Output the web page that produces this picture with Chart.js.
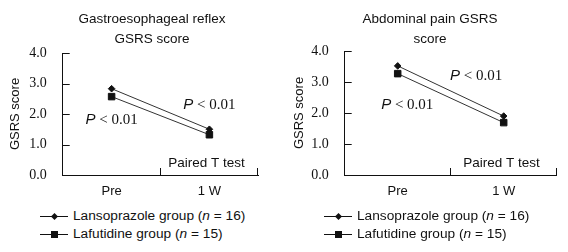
<!DOCTYPE html>
<html lang="en">
<head>
<meta charset="UTF-8">
<title>GSRS score</title>
<style>
body { margin: 0; background: #fff; font-family: 'Liberation Sans', Arial, sans-serif; color: #111; }
.wrap { display: flex; width: 568px; height: 252px; }
.panel { position: relative; width: 284px; height: 252px; }
.panel .title { position: absolute; top: 9px; left: 0; text-align: center; font-size: 13.5px; line-height: 20px; }
.chart-box { position: absolute; top: 0; left: 0; width: 284px; height: 200px; }
.legend { position: absolute; left: 40px; top: 207px; font-size: 13.7px; line-height: 18px; }
.legend .row { display: flex; align-items: center; height: 18px; white-space: pre; }
.sym { position: relative; width: 28px; height: 18px; margin-right: 5px; }
.sym:before { content: ""; position: absolute; left: 0; top: 9px; width: 28px; height: 1px; background: #111; }
.sym .diamond { position: absolute; left: 11.5px; top: 7px; width: 5px; height: 5px; background: #111; transform: rotate(45deg); }
.sym .square { position: absolute; left: 10.5px; top: 6px; width: 7px; height: 7px; background: #111; }
</style>
<script src="https://cdn.jsdelivr.net/npm/chart.js"></script>
</head>
<body>
<div class="wrap">
    <div class="panel">
        <div class="chart-box"><canvas id="refluxChart"></canvas></div>
        <div class="title" style="width:304px">Gastroesophageal reflex<br>GSRS score</div>
        <div class="legend">
            <div class="row"><span class="sym"><span class="diamond"></span></span>Lansoprazole group (<i>n</i> = 16)</div>
            <div class="row"><span class="sym"><span class="square"></span></span>Lafutidine group (<i>n</i> = 15)</div>
        </div>
    </div>
    <div class="panel">
        <div class="chart-box"><canvas id="painChart"></canvas></div>
        <div class="title" style="width:292px">Abdominal pain GSRS<br>score</div>
        <div class="legend">
            <div class="row"><span class="sym"><span class="diamond"></span></span>Lansoprazole group (<i>n</i> = 16)</div>
            <div class="row"><span class="sym"><span class="square"></span></span>Lafutidine group (<i>n</i> = 15)</div>
        </div>
    </div>
</div>
<script>
const timepoints = ["Pre", "1 W"];

// GSRS scores
const refluxLanso = [2.83, 1.50];
const refluxLafu = [2.57, 1.32];
const painLanso = [3.52, 1.90];
const painLafu = [3.27, 1.69];

const refluxStep = 1;
const painStep = 0.5;

// inward tick marks + the text notes inside the plot
const extras = {
    id: "extras",
    afterDraw(chart, args, opts) {
        const { ctx, chartArea: a, scales: { x, y } } = chart;
        ctx.save();
        ctx.strokeStyle = "#111";
        ctx.lineWidth = 1;
        ctx.beginPath();
        y.ticks.forEach((t, i) => {
            if (i === 0) return;
            const py = Math.round(y.getPixelForTick(i)) + 0.5;
            ctx.moveTo(a.left, py);
            ctx.lineTo(a.left + 7, py);
        });
        const half = (x.getPixelForValue(1) - x.getPixelForValue(0)) / 2;
        x.ticks.forEach((t, i) => {
            const px = Math.round(x.getPixelForValue(i) + half) - 0.5;
            ctx.moveTo(px, a.bottom);
            ctx.lineTo(px, a.bottom - 7);
        });
        ctx.stroke();

        ctx.fillStyle = "#111";
        ctx.textBaseline = "middle";
        ctx.textAlign = "left";
        opts.notes.forEach(n => {
            const px = x.getPixelForValue(n.x);
            const py = y.getPixelForValue(n.y);
            if (n.p) {
                const pFont = "italic 15px 'Liberation Sans', Arial, sans-serif";
                const rFont = "15px 'Liberation Serif', 'Times New Roman', serif";
                ctx.font = pFont;
                const wP = ctx.measureText("P").width;
                ctx.font = rFont;
                const rest = " < " + n.text;
                const wR = ctx.measureText(rest).width;
                let sx = px - (wP + wR) / 2;
                ctx.font = pFont;
                ctx.fillText("P", sx, py);
                ctx.font = rFont;
                ctx.fillText(rest, sx + wP, py);
            } else {
                ctx.font = "13.5px 'Liberation Sans', Arial, sans-serif";
                ctx.textAlign = "center";
                ctx.fillText(n.text, px, py);
                ctx.textAlign = "left";
            }
        });
        ctx.restore();
    }
};

function makeChart(id, lanso, lafu, step, pad, axisWidth, notes) {
    return new Chart(document.getElementById(id), {
        type: "line",
        data: {
            labels: timepoints,
            datasets: [
                {
                    label: "Lansoprazole group (n = 16)",
                    data: lanso,
                    borderColor: "#333",
                    borderWidth: 1,
                    pointStyle: "rectRot",
                    pointRadius: 3.3,
                    pointBackgroundColor: "#111",
                    pointBorderColor: "#111",
                    tension: 0
                },
                {
                    label: "Lafutidine group (n = 15)",
                    data: lafu,
                    borderColor: "#333",
                    borderWidth: 1,
                    pointStyle: "rect",
                    pointRadius: 4.6,
                    pointBackgroundColor: "#111",
                    pointBorderColor: "#111",
                    tension: 0
                }
            ]
        },
        options: {
            responsive: true,
            maintainAspectRatio: false,
            animation: false,
            layout: { padding: pad },
            plugins: {
                legend: { display: false },
                tooltip: { enabled: false },
                extras: { notes: notes }
            },
            scales: {
                x: {
                    offset: true,
                    grid: { display: false, offset: true },
                    border: { color: "#111", width: 1 },
                    ticks: { color: "#111", padding: 1, font: { family: "'Liberation Sans', Arial, sans-serif", size: 13 } },
                    afterFit(s) { s.height = 25; }
                },
                y: {
                    min: 0,
                    max: 4,
                    grid: { display: false },
                    border: { color: "#111", width: 1 },
                    ticks: {
                        stepSize: step,
                        color: "#111",
                        padding: 8,
                        font: { family: "'Liberation Serif', 'Times New Roman', serif", size: 14 },
                        callback: v => v.toFixed(1)
                    },
                    title: {
                        display: true,
                        text: "GSRS score",
                        color: "#111",
                        padding: { top: 8, bottom: 0 },
                        font: { family: "'Liberation Sans', Arial, sans-serif", size: 13 }
                    },
                    afterFit(s) { s.width = axisWidth; }
                }
            }
        },
        plugins: [extras]
    });
}

makeChart("refluxChart", refluxLanso, refluxLafu, refluxStep,
    { top: 53, right: 25.7, left: 0, bottom: 0 }, 62.7,
    [
        { x: 0, y: 1.80, text: "0.01", p: true },
        { x: 1, y: 2.30, text: "0.01", p: true },
        { x: 0.97, y: 0.39, text: "Paired T test" }
    ]);

makeChart("painChart", painLanso, painLafu, painStep,
    { top: 51, right: 11.3, left: 0, bottom: 0 }, 60.7,
    [
        { x: 0.09, y: 2.26, text: "0.01", p: true },
        { x: 0.74, y: 3.19, text: "0.01", p: true },
        { x: 0.98, y: 0.39, text: "Paired T test" }
    ]);
</script>
</body>
</html>
